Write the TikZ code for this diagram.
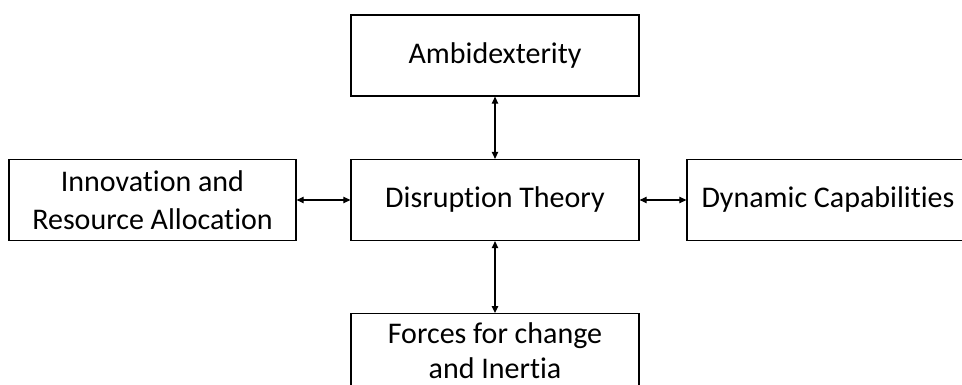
\documentclass[tikz,border=0pt]{standalone}
\usepackage{fontspec}
\setmainfont[Ligatures={NoCommon}]{Carlito}
\usetikzlibrary{arrows.meta}
\begin{document}
\begin{tikzpicture}[x=1pt,y=-1pt,
  box/.style={draw,line width=1.3pt,minimum width=288pt,minimum height=81pt,
    align=center,font=\fontsize{30}{38}\selectfont,inner sep=0pt},
  link/.style={line width=1.2pt,{Triangle[length=7pt,width=6.5pt]}-{Triangle[length=7pt,width=6.5pt]}}]
\useasboundingbox (0,0) rectangle (962,385);
\begin{scope}
\clip (0,0) rectangle (962,385);
\node[box] (amb) at (495,55.5) {Ambidexterity};
\node[box] (dis) at (495,200) {Disruption Theory};
\node[box,minimum width=287pt] (inn) at (152.5,200) {Innovation and\\Resource Allocation};
\node[box,minimum width=288pt] (dyn) at (831,200) {\hspace*{-6pt}Dynamic Capabilities};
\node[box,minimum height=110pt,anchor=north] (frc) at (495,313) {};
\node[font=\fontsize{30}{35}\selectfont,align=center,inner sep=0pt] (frct) at (495,351) {Forces for change\\and Inertia};
\end{scope}
\draw[link] (amb.south) -- (dis.north);
\draw[link] (dis.south) -- (frc.north);
\draw[link] (inn.east) -- (dis.west);
\draw[link] (dis.east) -- (dyn.west);
\end{tikzpicture}
\end{document}
